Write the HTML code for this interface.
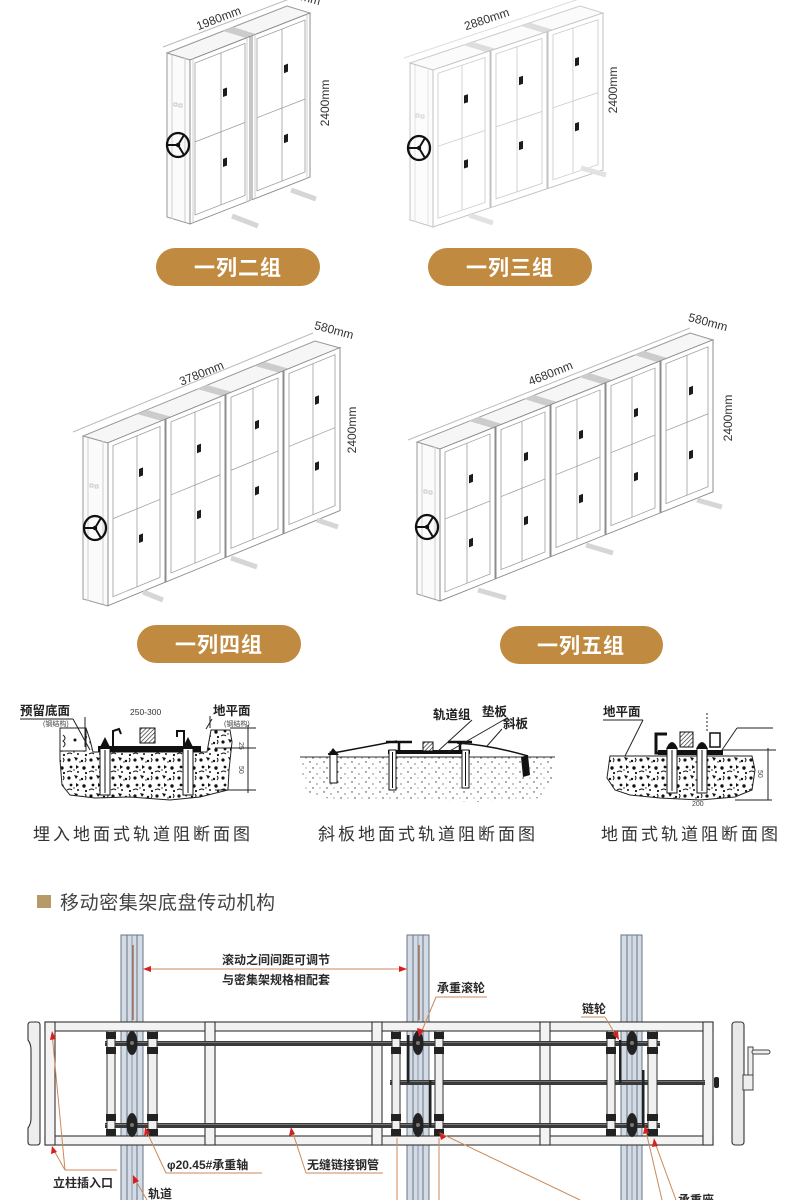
<!DOCTYPE html>
<html><head><meta charset="utf-8">
<style>
html,body{margin:0;padding:0;background:#fff;}
svg{display:block;}
.u{fill:#fff;stroke:#8c8c8c;stroke-width:1}
.l{stroke:#cfcfcf;stroke-width:1}
.d{fill:none;stroke:#9c9c9c;stroke-width:.8}
.h{fill:#1c1c1c}
.f .u{stroke:#c2c2c2}.f .d{stroke:#c8c8c8}.f .l{stroke:#e2e2e2}
.dim{font-family:"Liberation Sans",sans-serif;font-size:12px;fill:#333}
.btn{font-family:"Liberation Sans","Noto Sans CJK SC",sans-serif;font-size:21px;font-weight:bold;fill:#fff;letter-spacing:1px}
.cap{font-family:"Liberation Sans","Noto Sans CJK SC",sans-serif;font-size:17px;fill:#333;letter-spacing:3px}
.lb{font-family:"Liberation Sans","Noto Sans CJK SC",sans-serif;font-size:12.5px;font-weight:bold;fill:#222}
.ml{font-family:"Liberation Sans","Noto Sans CJK SC",sans-serif;font-size:12px;font-weight:bold;fill:#2a2a2a}
.ann{stroke:#c98a5a;stroke-width:1;fill:none}
.ln{stroke:#222;stroke-width:1;fill:none}
.sh{stroke:#d6d6d6;stroke-width:5}
</style></head><body>
<svg width="790" height="1200" viewBox="0 0 790 1200" xmlns="http://www.w3.org/2000/svg">
<defs>
<g id="wh"><ellipse cx="0" cy="0" rx="11" ry="12" fill="none" stroke="#111" stroke-width="2.3"/><path d="M0,0 L-11,0 M0,0 L6,-10 M0,0 L6,10" stroke="#111" stroke-width="2"/><circle r="2.2" fill="#111"/></g>
<pattern id="sd" width="22" height="18" patternUnits="userSpaceOnUse">
<rect width="22" height="18" fill="#fff"/>
<circle cx="3" cy="4" r="1.6" fill="#111"/><path d="M8,1 l4,1 -2,3 z" fill="#111"/>
<circle cx="16" cy="5" r="1.2" fill="#111"/><path d="M19,2 q2,2 0,4" stroke="#111" fill="none"/>
<circle cx="5" cy="11" r="1.4" fill="#111"/><path d="M10,9 l3,2 -3,2z" fill="#111"/>
<circle cx="18" cy="12" r="1.7" fill="#111"/><path d="M1,16 q3,-2 5,0" stroke="#111" fill="none"/>
<circle cx="12" cy="16" r="1" fill="#111"/><circle cx="20" cy="17" r="1.1" fill="#111"/>
<circle cx="14" cy="6" r=".7" fill="#111"/><circle cx="8" cy="14" r=".7" fill="#111"/>
</pattern>
<pattern id="sl" width="14" height="10" patternUnits="userSpaceOnUse">
<circle cx="2" cy="2" r=".7" fill="#333"/><circle cx="9" cy="4" r=".6" fill="#333"/><circle cx="5" cy="8" r=".7" fill="#333"/><circle cx="12" cy="8" r=".5" fill="#333"/>
</pattern>
<pattern id="ht" width="3" height="3" patternUnits="userSpaceOnUse" patternTransform="rotate(45)"><rect width="3" height="3" fill="#fff"/><line x1="0" y1="0" x2="0" y2="3" stroke="#222" stroke-width="1.3"/></pattern>
</defs>

<!-- ===== Cabinet 1 : 一列二组 ===== -->
<g>
<line x1="163" y1="47" x2="292" y2="-2" stroke="#bbb"/>
<polygon points="190,60 310,13 287,6 167,53" fill="#f6f6f6" stroke="#999"/>
<polygon points="246,38 256,34 233,27 223,31" fill="#ccc"/>
<polygon points="190,60 167,53 167,217 190,224" fill="#fbfbfb" stroke="#999"/>
<line x1="172" y1="55" x2="172" y2="219" class="l"/><line x1="185" y1="58" x2="185" y2="222" class="l"/>
<g transform="matrix(1,-0.39,0,1,0,0)">
<rect x="190" y="134" width="60" height="164" class="u"/><line x1="193" y1="134" x2="193" y2="298" class="l"/><line x1="247" y1="134" x2="247" y2="298" class="l"/>
<rect x="195" y="139" width="50" height="152" class="d"/><line x1="195" y1="218" x2="245" y2="218" class="d"/><line x1="221" y1="139" x2="221" y2="291" class="d"/>
<rect x="223" y="176" width="4" height="8" class="h"/><rect x="223" y="246" width="4" height="8" class="h"/>
<rect x="252" y="134" width="58" height="164" class="u"/><line x1="255" y1="134" x2="255" y2="298" class="l"/><line x1="307" y1="134" x2="307" y2="298" class="l"/>
<rect x="257" y="139" width="48" height="152" class="d"/><line x1="257" y1="218" x2="305" y2="218" class="d"/><line x1="282" y1="139" x2="282" y2="291" class="d"/>
<rect x="284" y="176" width="4" height="8" class="h"/><rect x="284" y="246" width="4" height="8" class="h"/>
</g>
<rect x="174" y="103" width="3" height="3" fill="none" stroke="#aaa" stroke-width=".6"/><rect x="179" y="104" width="3" height="3" fill="none" stroke="#aaa" stroke-width=".6"/>
<use href="#wh" x="178" y="145"/>
<line x1="232" y1="216" x2="258" y2="226" class="sh"/>
<line x1="291" y1="190" x2="316" y2="199" class="sh"/>
<text class="dim" transform="translate(220,22) rotate(-21)" text-anchor="middle">1980mm</text>
<text class="dim" transform="translate(300,0) rotate(15)" text-anchor="middle">580mm</text>
<text class="dim" transform="translate(329,103) rotate(-90)" text-anchor="middle">2400mm</text>
</g>

<!-- ===== Cabinet 2 : 一列三组 ===== -->
<g class="f">
<line x1="404" y1="58" x2="582" y2="-2" stroke="#ddd"/>
<polygon points="433,70 603,13 580,6 410,63" fill="#fbfbfb" stroke="#ccc"/>
<polygon points="486,52 496,49 473,42 463,45" fill="#ddd"/>
<polygon points="544,33 554,30 531,23 521,26" fill="#ddd"/>
<polygon points="433,70 410,63 410,220 433,227" fill="#fcfcfc" stroke="#c4c4c4"/>
<line x1="415" y1="65" x2="415" y2="222" class="l"/><line x1="428" y1="68" x2="428" y2="225" class="l"/>
<g transform="matrix(1,-0.335,0,1,0,0)">
<rect x="433" y="215" width="57" height="157" class="u"/><rect x="438" y="220" width="47" height="145" class="d"/><line x1="438" y1="293" x2="485" y2="293" class="d"/><line x1="462" y1="220" x2="462" y2="365" class="d"/>
<rect x="464" y="251" width="4" height="8" class="h"/><rect x="464" y="316" width="4" height="8" class="h"/>
<rect x="491" y="215" width="56" height="157" class="u"/><rect x="496" y="220" width="46" height="145" class="d"/><line x1="496" y1="293" x2="542" y2="293" class="d"/><line x1="517" y1="220" x2="517" y2="365" class="d"/>
<rect x="519" y="251" width="4" height="8" class="h"/><rect x="519" y="316" width="4" height="8" class="h"/>
<rect x="548" y="215" width="55" height="157" class="u"/><rect x="553" y="220" width="45" height="145" class="d"/><line x1="553" y1="293" x2="598" y2="293" class="d"/><line x1="573" y1="220" x2="573" y2="365" class="d"/>
<rect x="575" y="251" width="4" height="8" class="h"/><rect x="575" y="316" width="4" height="8" class="h"/>
</g>
<rect x="416" y="114" width="3" height="3" fill="none" stroke="#bbb" stroke-width=".6"/><rect x="421" y="115" width="3" height="3" fill="none" stroke="#bbb" stroke-width=".6"/>
<use href="#wh" x="419" y="148"/>
<line x1="469" y1="215" x2="493" y2="223" stroke="#e2e2e2" stroke-width="5"/>
<line x1="581" y1="168" x2="606" y2="175" stroke="#e2e2e2" stroke-width="5"/>
<text class="dim" transform="translate(488,23) rotate(-18.5)" text-anchor="middle">2880mm</text>
<text class="dim" transform="translate(617,90) rotate(-90)" text-anchor="middle">2400mm</text>
</g>

<rect x="156" y="248" width="164" height="38" rx="19" fill="#c08b40"/>
<text class="btn" x="238" y="275" text-anchor="middle">一列二组</text>
<rect x="428" y="248" width="164" height="38" rx="19" fill="#c08b40"/>
<text class="btn" x="510" y="275" text-anchor="middle">一列三组</text>

<!-- ===== Cabinet 4 : 一列四组 ===== -->
<g>
<line x1="73" y1="432" x2="313" y2="333" stroke="#bbb"/>
<polygon points="108,443 340,348 315,341 83,436" fill="#f6f6f6" stroke="#999"/>
<polygon points="162,421 172,417 147,410 137,414" fill="#ccc"/>
<polygon points="222,396 232,392 207,385 197,389" fill="#ccc"/>
<polygon points="280,373 290,369 265,362 255,366" fill="#ccc"/>
<polygon points="108,443 83,436 83,599 108,606" fill="#fbfbfb" stroke="#999"/>
<line x1="88" y1="438" x2="88" y2="601" class="l"/><line x1="103" y1="441" x2="103" y2="604" class="l"/>
<g transform="matrix(1,-0.41,0,1,0,0)">
<rect x="108" y="487" width="57" height="163" class="u"/><rect x="113" y="492" width="47" height="151" class="d"/><line x1="113" y1="565" x2="160" y2="565" class="d"/><line x1="137" y1="492" x2="137" y2="643" class="d"/>
<rect x="139" y="526" width="4" height="8" class="h"/><rect x="139" y="592" width="4" height="8" class="h"/>
<rect x="166" y="487" width="59" height="163" class="u"/><rect x="171" y="492" width="49" height="151" class="d"/><line x1="171" y1="565" x2="220" y2="565" class="d"/><line x1="195" y1="492" x2="195" y2="643" class="d"/>
<rect x="197" y="526" width="4" height="8" class="h"/><rect x="197" y="592" width="4" height="8" class="h"/>
<rect x="226" y="487" width="57" height="163" class="u"/><rect x="231" y="492" width="47" height="151" class="d"/><line x1="231" y1="565" x2="278" y2="565" class="d"/><line x1="253" y1="492" x2="253" y2="643" class="d"/>
<rect x="255" y="526" width="4" height="8" class="h"/><rect x="255" y="592" width="4" height="8" class="h"/>
<rect x="284" y="487" width="56" height="163" class="u"/><rect x="289" y="492" width="46" height="151" class="d"/><line x1="289" y1="565" x2="335" y2="565" class="d"/><line x1="313" y1="492" x2="313" y2="643" class="d"/>
<rect x="315" y="526" width="4" height="8" class="h"/><rect x="315" y="592" width="4" height="8" class="h"/>
</g>
<rect x="90" y="484" width="3" height="3" fill="none" stroke="#aaa" stroke-width=".6"/><rect x="95" y="485" width="3" height="3" fill="none" stroke="#aaa" stroke-width=".6"/>
<use href="#wh" x="95" y="528"/>
<line x1="143" y1="592" x2="163" y2="600" class="sh"/>
<line x1="231" y1="558" x2="257" y2="567" class="sh"/>
<line x1="317" y1="520" x2="338" y2="527" class="sh"/>
<text class="dim" transform="translate(203,377) rotate(-22)" text-anchor="middle">3780mm</text>
<text class="dim" transform="translate(333,334) rotate(15)" text-anchor="middle">580mm</text>
<text class="dim" transform="translate(356,430) rotate(-90)" text-anchor="middle">2400mm</text>
</g>

<!-- ===== Cabinet 5 : 一列五组 ===== -->
<g>
<line x1="408" y1="440" x2="690" y2="328" stroke="#bbb"/>
<polygon points="440,449 713,340 690,333 417,442" fill="#f6f6f6" stroke="#999"/>
<polygon points="492,428 502,424 479,417 469,421" fill="#ccc"/>
<polygon points="547,406 557,402 534,395 524,399" fill="#ccc"/>
<polygon points="602,384 612,380 589,373 579,377" fill="#ccc"/>
<polygon points="657,362 667,358 644,351 634,355" fill="#ccc"/>
<polygon points="440,449 417,442 417,594 440,601" fill="#fbfbfb" stroke="#999"/>
<line x1="422" y1="444" x2="422" y2="596" class="l"/><line x1="435" y1="447" x2="435" y2="599" class="l"/>
<g transform="matrix(1,-0.40,0,1,0,0)">
<rect x="440" y="625" width="55" height="152" class="u"/><rect x="445" y="630" width="45" height="140" class="d"/><line x1="445" y1="697" x2="490" y2="697" class="d"/><line x1="467" y1="630" x2="467" y2="770" class="d"/>
<rect x="469" y="663" width="4" height="8" class="h"/><rect x="469" y="727" width="4" height="8" class="h"/>
<rect x="496" y="625" width="54" height="152" class="u"/><rect x="501" y="630" width="44" height="140" class="d"/><line x1="501" y1="697" x2="545" y2="697" class="d"/><line x1="522" y1="630" x2="522" y2="770" class="d"/>
<rect x="524" y="663" width="4" height="8" class="h"/><rect x="524" y="727" width="4" height="8" class="h"/>
<rect x="551" y="625" width="54" height="152" class="u"/><rect x="556" y="630" width="44" height="140" class="d"/><line x1="556" y1="697" x2="600" y2="697" class="d"/><line x1="577" y1="630" x2="577" y2="770" class="d"/>
<rect x="579" y="663" width="4" height="8" class="h"/><rect x="579" y="727" width="4" height="8" class="h"/>
<rect x="606" y="625" width="54" height="152" class="u"/><rect x="611" y="630" width="44" height="140" class="d"/><line x1="611" y1="697" x2="655" y2="697" class="d"/><line x1="632" y1="630" x2="632" y2="770" class="d"/>
<rect x="634" y="663" width="4" height="8" class="h"/><rect x="634" y="727" width="4" height="8" class="h"/>
<rect x="661" y="625" width="52" height="152" class="u"/><rect x="666" y="630" width="42" height="140" class="d"/><line x1="666" y1="697" x2="708" y2="697" class="d"/><line x1="687" y1="630" x2="687" y2="770" class="d"/>
<rect x="689" y="663" width="4" height="8" class="h"/><rect x="689" y="727" width="4" height="8" class="h"/>
</g>
<rect x="424" y="490" width="3" height="3" fill="none" stroke="#aaa" stroke-width=".6"/><rect x="429" y="491" width="3" height="3" fill="none" stroke="#aaa" stroke-width=".6"/>
<use href="#wh" x="427" y="527"/>
<line x1="478" y1="590" x2="506" y2="598" class="sh"/>
<line x1="586" y1="545" x2="613" y2="553" class="sh"/>
<line x1="697" y1="500" x2="722" y2="507" class="sh"/>
<text class="dim" transform="translate(552,377) rotate(-21.8)" text-anchor="middle">4680mm</text>
<text class="dim" transform="translate(707,326) rotate(15)" text-anchor="middle">580mm</text>
<text class="dim" transform="translate(732,418) rotate(-90)" text-anchor="middle">2400mm</text>
</g>

<rect x="137" y="625" width="164" height="38" rx="19" fill="#c08b40"/>
<text class="btn" x="219" y="652" text-anchor="middle">一列四组</text>
<rect x="500" y="626" width="163" height="38" rx="19" fill="#c08b40"/>
<text class="btn" x="581" y="653" text-anchor="middle">一列五组</text>

<!-- ===== Cross section 1 ===== -->
<g>
<polygon points="60,728 86,728 90,740 93,752 207,752 211,730 230,730 232,742 229,770 228,790 200,797 170,800 130,797 95,798 70,795 62,785 60,760" fill="url(#sd)" stroke="#222"/>
<rect x="60" y="728" width="26" height="23" fill="#fff" stroke="#222"/>
<path d="M63,735 q4,3 0,6 q4,3 0,6" class="ln"/><circle cx="75" cy="740" r="1.5" fill="#111"/>
<rect x="98" y="746" width="103" height="6" fill="#111"/>
<rect x="100" y="748" width="10" height="47" fill="#fff" stroke="#111"/><line x1="105" y1="750" x2="105" y2="793" stroke="#111"/>
<polygon points="99,749 105,737 111,749" fill="#111"/>
<rect x="183" y="748" width="10" height="47" fill="#fff" stroke="#111"/><line x1="188" y1="750" x2="188" y2="793" stroke="#111"/>
<polygon points="182,749 188,737 194,749" fill="#111"/>
<path d="M113,746 L113,731 L119,729 L121,734" stroke="#111" stroke-width="2" fill="none"/>
<path d="M184,746 L184,731 L177,731 L177,737" stroke="#111" stroke-width="2" fill="none"/>
<rect x="140" y="728" width="15" height="15" fill="url(#ht)" stroke="#111"/>
<line x1="85" y1="717" x2="85" y2="747" class="ln" stroke-width=".6"/>
<line x1="210" y1="716" x2="210" y2="728" class="ln" stroke-width=".6"/>
<line x1="230" y1="728" x2="256" y2="728" class="ln" stroke-width=".6"/>
<line x1="215" y1="748" x2="256" y2="748" class="ln" stroke-width=".6"/>
<line x1="215" y1="790" x2="256" y2="790" class="ln" stroke-width=".6"/>
<line x1="248" y1="725" x2="248" y2="793" class="ln" stroke-width=".6"/>
<text x="239" y="742" font-family="Liberation Sans" font-size="7" fill="#444" transform="rotate(90 239 742)">25</text>
<text x="239" y="766" font-family="Liberation Sans" font-size="7" fill="#444" transform="rotate(90 239 766)">50</text>
<text class="lb" x="20" y="715">预留底面</text>
<line x1="20" y1="719" x2="73" y2="719" class="ln" stroke-width=".5"/>
<line x1="73" y1="719" x2="90" y2="750" class="ln" stroke-width=".6"/>
<text x="43" y="726" font-family="Liberation Sans,Noto Sans CJK SC,sans-serif" font-size="7" fill="#444">(钢结构)</text>
<text x="130" y="715" font-family="Liberation Sans" font-size="8.5" fill="#333">250-300</text>
<text class="lb" x="213" y="715">地平面</text>
<line x1="212" y1="719" x2="206" y2="729" class="ln" stroke-width=".6"/>
<text x="224" y="726" font-family="Liberation Sans,Noto Sans CJK SC,sans-serif" font-size="7" fill="#444">(钢结构)</text>
<text class="cap" x="33" y="840">埋入地面式轨道阻断面图</text>
</g>

<!-- ===== Cross section 2 ===== -->
<g>
<path d="M300,757 L555,757 L553,780 L540,798 L480,802 L400,800 L330,799 L305,792 Z" fill="url(#sl)" stroke="none"/>
<line x1="300" y1="757" x2="555" y2="757" stroke="#333"/>
<path d="M328,754 L397,741" stroke="#111" stroke-width="1.5"/>
<path d="M457,743 Q490,745 528,756" stroke="#111" stroke-width="1.5" fill="none"/>
<rect x="388" y="750" width="82" height="4" fill="#111"/>
<rect x="330" y="752" width="7" height="31" fill="#fff" stroke="#111"/><polygon points="328,755 333,748 339,755" fill="#111"/>
<rect x="389" y="750" width="7" height="40" fill="#fff" stroke="#111"/><line x1="392.5" y1="752" x2="392.5" y2="788" stroke="#111"/>
<rect x="462" y="750" width="7" height="38" fill="#fff" stroke="#111"/><line x1="465.5" y1="752" x2="465.5" y2="786" stroke="#111"/>
<polygon points="521,757 528,755 530,775 523,777" fill="#111"/>
<path d="M386,742 L412,742 M399,742 L399,750" stroke="#111" stroke-width="2.5"/>
<path d="M448,742 L472,742 M460,742 L460,750" stroke="#111" stroke-width="2.5"/>
<rect x="423" y="742" width="10" height="9" fill="url(#ht)" stroke="#111"/>
<text class="lb" x="433" y="719">轨道组</text>
<text class="lb" x="482" y="716">垫板</text>
<text class="lb" x="503" y="728">斜板</text>
<line x1="472" y1="720" x2="437" y2="752" class="ln" stroke-width=".7"/>
<line x1="507" y1="718" x2="448" y2="752" class="ln" stroke-width=".7"/>
<line x1="502" y1="729" x2="487" y2="746" class="ln" stroke-width=".7"/>
<text class="cap" x="318" y="840">斜板地面式轨道阻断面图</text>
</g>

<!-- ===== Cross section 3 ===== -->
<g>
<polygon points="610,756 752,756 755,770 752,790 735,797 700,800 660,798 630,795 615,790 607,778" fill="url(#sd)" stroke="#222"/>
<rect x="658" y="750" width="65" height="5" fill="#111"/>
<path d="M667,734 L656,734 L656,753 L667,753" stroke="#111" stroke-width="3" fill="none"/>
<rect x="680" y="732" width="13" height="15" fill="url(#ht)" stroke="#111"/>
<rect x="667" y="748" width="10" height="45" fill="#fff" stroke="#111"/><line x1="672" y1="750" x2="672" y2="791" stroke="#111"/>
<rect x="697" y="748" width="10" height="45" fill="#fff" stroke="#111"/><line x1="702" y1="750" x2="702" y2="791" stroke="#111"/>
<path d="M666,749 Q672,735 678,749 Z" fill="#111"/><path d="M696,749 Q702,735 708,749 Z" fill="#111"/>
<rect x="710" y="733" width="10" height="14" fill="#fff" stroke="#111" stroke-width="1.5"/>
<line x1="707" y1="713" x2="707" y2="733" class="ln" stroke-width=".5" stroke-dasharray="2,2"/>
<line x1="737" y1="728" x2="773" y2="728" class="ln" stroke-width=".7"/>
<line x1="737" y1="728" x2="722" y2="750" class="ln" stroke-width=".7"/>
<line x1="723" y1="750" x2="776" y2="750" class="ln" stroke-width=".5"/>
<line x1="768" y1="748" x2="768" y2="800" class="ln" stroke-width=".5"/>
<line x1="735" y1="800" x2="772" y2="800" class="ln" stroke-width=".5"/>
<text x="758" y="770" font-family="Liberation Sans" font-size="7" fill="#444" transform="rotate(90 758 770)">50</text>
<text x="692" y="806" font-family="Liberation Sans" font-size="7" fill="#444">200</text>
<text class="lb" x="603" y="716">地平面</text>
<line x1="603" y1="720" x2="643" y2="720" class="ln" stroke-width=".5"/>
<line x1="643" y1="720" x2="625" y2="756" class="ln" stroke-width=".7"/>
<text class="cap" x="601" y="840">地面式轨道阻断面图</text>
</g>

<!-- ===== Section 4 header ===== -->
<rect x="37" y="895" width="14" height="13" fill="#b89a68"/>
<text x="60" y="909" font-family="Liberation Sans,Noto Sans CJK SC,sans-serif" font-size="19" fill="#444" letter-spacing="0.6">移动密集架底盘传动机构</text>

<!-- rails -->
<g stroke="#6a7580" stroke-width="1">
<rect x="121" y="935" width="22" height="270" fill="#d3dce6"/>
<line x1="127" y1="935" x2="127" y2="1200"/><line x1="132" y1="935" x2="132" y2="1200" stroke="#8a96a2"/><line x1="137" y1="935" x2="137" y2="1200"/>
<rect x="407" y="935" width="22" height="270" fill="#d3dce6"/>
<line x1="413" y1="935" x2="413" y2="1200"/><line x1="418" y1="935" x2="418" y2="1200" stroke="#8a96a2"/><line x1="423" y1="935" x2="423" y2="1200"/>
<rect x="621" y="935" width="21" height="270" fill="#d3dce6"/>
<line x1="627" y1="935" x2="627" y2="1200"/><line x1="632" y1="935" x2="632" y2="1200" stroke="#8a96a2"/><line x1="637" y1="935" x2="637" y2="1200"/>
</g>
<line x1="133" y1="945" x2="133" y2="1020" stroke="#a0705a" stroke-width="1.5"/>
<line x1="419" y1="945" x2="419" y2="1020" stroke="#a0705a" stroke-width="1.5"/>

<!-- frame -->
<g stroke="#333" stroke-width="1.1" fill="#f3f3f3">
<rect x="45" y="1022" width="668" height="9"/>
<rect x="45" y="1136" width="668" height="9"/>
<rect x="45" y="1022" width="10" height="123"/>
<rect x="205" y="1022" width="10" height="123"/>
<rect x="372" y="1022" width="10" height="123"/>
<rect x="540" y="1022" width="10" height="123"/>
<rect x="703" y="1022" width="10" height="123"/>
<path d="M31,1022 L37,1022 Q40,1022 40,1025 L40,1142 Q40,1145 37,1145 L31,1145 Q28,1145 28,1142 L28,1128 Q31,1124 31,1118 L31,1050 Q31,1044 28,1040 L28,1025 Q28,1022 31,1022 Z" fill="#eee"/>
<rect x="732" y="1022" width="12" height="123" rx="3" fill="#e8e8e8"/>
</g>
<!-- shafts -->
<rect x="105" y="1041" width="555" height="5" fill="#3a3a3a"/><line x1="105" y1="1042.5" x2="660" y2="1042.5" stroke="#888" stroke-width=".8"/>
<rect x="105" y="1123" width="555" height="5" fill="#3a3a3a"/><line x1="105" y1="1124.5" x2="660" y2="1124.5" stroke="#888" stroke-width=".8"/>
<rect x="390" y="1080" width="315" height="5" fill="#3a3a3a"/><line x1="390" y1="1081.5" x2="705" y2="1081.5" stroke="#888" stroke-width=".8"/>
<rect x="714" y="1077" width="5" height="11" rx="2" fill="#222"/>

<!-- roller tubes -->
<g stroke="#333" stroke-width="1" fill="#f0f0f0">
<rect x="107" y="1031" width="8" height="105"/><rect x="148" y="1031" width="9" height="105"/>
<rect x="392" y="1031" width="8" height="105"/><rect x="435" y="1031" width="8" height="105"/>
<rect x="607" y="1031" width="8" height="105"/><rect x="648" y="1031" width="9" height="105"/>
</g>
<g fill="#222">
<rect x="106" y="1032" width="10" height="7"/><rect x="106" y="1047" width="10" height="7"/><rect x="106" y="1114" width="10" height="7"/><rect x="106" y="1129" width="10" height="7"/>
<rect x="147" y="1032" width="11" height="7"/><rect x="147" y="1047" width="11" height="7"/><rect x="147" y="1114" width="11" height="7"/><rect x="147" y="1129" width="11" height="7"/>
<rect x="391" y="1032" width="10" height="7"/><rect x="391" y="1047" width="10" height="7"/><rect x="391" y="1114" width="10" height="7"/><rect x="391" y="1129" width="10" height="7"/>
<rect x="434" y="1032" width="10" height="7"/><rect x="434" y="1047" width="10" height="7"/><rect x="434" y="1114" width="10" height="7"/><rect x="434" y="1129" width="10" height="7"/>
<rect x="606" y="1032" width="10" height="7"/><rect x="606" y="1047" width="10" height="7"/><rect x="606" y="1114" width="10" height="7"/><rect x="606" y="1129" width="10" height="7"/>
<rect x="647" y="1032" width="11" height="7"/><rect x="647" y="1047" width="11" height="7"/><rect x="647" y="1114" width="11" height="7"/><rect x="647" y="1129" width="11" height="7"/>
<ellipse cx="132" cy="1043" rx="5.5" ry="12"/><ellipse cx="132" cy="1125" rx="5.5" ry="12"/>
<ellipse cx="418" cy="1043" rx="5.5" ry="12"/><ellipse cx="418" cy="1125" rx="5.5" ry="12"/>
<ellipse cx="632" cy="1043" rx="5.5" ry="12"/><ellipse cx="632" cy="1125" rx="5.5" ry="12"/>
<rect x="407" y="1035" width="2.5" height="48"/><rect x="429" y="1080" width="2.5" height="47"/>
<rect x="619" y="1040" width="2.5" height="43"/><rect x="642" y="1070" width="2.5" height="57"/>
</g>
<g fill="#777">
<circle cx="132" cy="1043" r="2"/><circle cx="132" cy="1125" r="2"/>
<circle cx="418" cy="1043" r="2"/><circle cx="418" cy="1125" r="2"/>
<circle cx="632" cy="1043" r="2"/><circle cx="632" cy="1125" r="2"/>
</g>
<!-- crank -->
<rect x="748" y="1047" width="5" height="40" fill="#eee" stroke="#444"/>
<rect x="752" y="1050" width="18" height="4" rx="2" fill="#eee" stroke="#444"/>
<rect x="743" y="1075" width="10" height="15" fill="#eee" stroke="#444"/>

<!-- annotations -->
<line x1="143" y1="969" x2="407" y2="969" class="ann"/>
<polygon points="143,969 151,966 151,972" fill="#d62020"/>
<polygon points="407,969 399,966 399,972" fill="#d62020"/>
<text class="ml" x="222" y="964">滚动之间间距可调节</text>
<text class="ml" x="222" y="984">与密集架规格相配套</text>

<text class="ml" x="437" y="992">承重滚轮</text>
<line x1="436" y1="997" x2="487" y2="997" class="ann"/>
<line x1="436" y1="997" x2="421" y2="1033" class="ann"/>
<polygon points="419,1037 417,1028 424,1030" fill="#d62020"/>

<text class="ml" x="582" y="1013">链轮</text>
<line x1="581" y1="1017" x2="605" y2="1017" class="ann"/>
<line x1="605" y1="1017" x2="617" y2="1037" class="ann"/>
<polygon points="619,1040 612,1034 618,1031" fill="#d62020"/>

<text class="ml" x="167" y="1169">φ20.45#承重轴</text>
<line x1="166" y1="1173" x2="262" y2="1173" class="ann"/>
<line x1="166" y1="1173" x2="146" y2="1130" class="ann"/>
<polygon points="145,1127 144,1136 150,1133" fill="#d62020"/>

<text class="ml" x="307" y="1169">无缝链接钢管</text>
<line x1="306" y1="1173" x2="383" y2="1173" class="ann"/>
<line x1="306" y1="1173" x2="292" y2="1130" class="ann"/>
<polygon points="291,1127 289,1136 295,1134" fill="#d62020"/>

<text class="ml" x="53" y="1187">立柱插入口</text>
<line x1="52" y1="1033" x2="65" y2="1170" class="ann"/>
<line x1="52" y1="1147" x2="65" y2="1170" class="ann"/>
<line x1="65" y1="1170" x2="117" y2="1170" class="ann"/>
<polygon points="52,1031 50,1040 56,1039" fill="#d62020"/>
<polygon points="52,1146 51,1154 57,1152" fill="#d62020"/>

<text class="ml" x="148" y="1198">轨道</text>
<line x1="133" y1="1176" x2="147" y2="1200" class="ann"/>
<polygon points="133,1175 133,1184 139,1181" fill="#d62020"/>

<line x1="397" y1="1138" x2="397" y2="1200" class="ann"/>
<line x1="439" y1="1138" x2="439" y2="1200" class="ann"/>
<line x1="440" y1="1133" x2="580" y2="1200" class="ann"/>
<polygon points="439,1132 446,1137 441,1140" fill="#d62020"/>
<line x1="645" y1="1127" x2="662" y2="1200" class="ann"/>
<line x1="654" y1="1140" x2="676" y2="1200" class="ann"/>
<polygon points="645,1125 643,1134 649,1133" fill="#d62020"/>
<polygon points="654,1138 652,1147 658,1146" fill="#d62020"/>
<text class="ml" x="678" y="1204">承重座</text>
</svg>
</body></html>
